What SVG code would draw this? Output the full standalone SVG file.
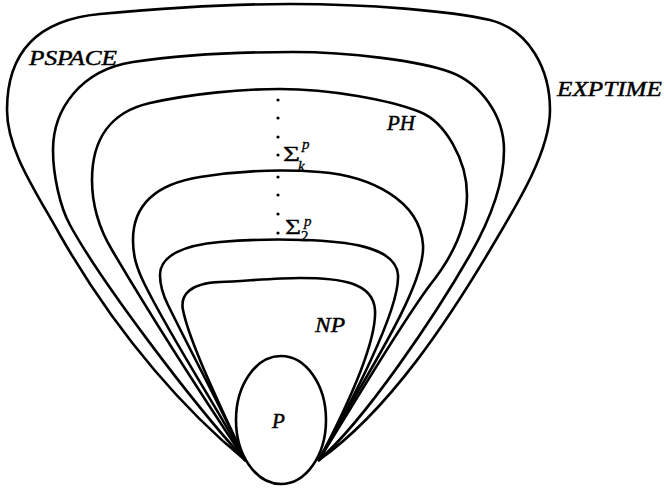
<svg xmlns="http://www.w3.org/2000/svg" width="664" height="489" viewBox="0 0 664 489">
<style>
.c{fill:none;stroke:#000;stroke-width:2.6;stroke-linecap:round;stroke-linejoin:round}
.t{font-family:"Liberation Serif","Times New Roman",serif;font-style:italic;font-size:21px;fill:#000;stroke:#000;stroke-width:0.45}
.s{font-family:"Liberation Serif","Times New Roman",serif;font-size:22px;fill:#000;stroke:#000;stroke-width:0.3}
.sm{font-family:"Liberation Serif","Times New Roman",serif;font-style:italic;font-size:15px;fill:#000;stroke:#000;stroke-width:0.3}
.d{fill:#000}
</style>
<rect width="664" height="489" fill="#fff"/>
<g id="exptime">
<path class="c" d="M245,460 C190,415 120,340 60,235 C35,190 7,150 7,110 C7,55 35,20 100,14 C160,8.5 230,4 290,4 C370,4 450,11 490,20 C530,30 550,70 550,110 C550,150 520,200 490,250 C450,317 390,410 319,460"/>
<text class="t" x="557" y="96" textLength="105" lengthAdjust="spacingAndGlyphs">EXPTIME</text>
</g>
<g id="pspace">
<path class="c" d="M245,460 C190,400 100,280 70,225 C60,207 53,175 53,150 C53,110 80,70 133,62 C180,55 240,52 293,52 C350,52 420,61 450,72 C480,83 504,115 504,150 C504,185 490,220 470,255 C435,316 365,420 319,460"/>
<text class="t" x="29" y="65" textLength="88" lengthAdjust="spacingAndGlyphs">PSPACE</text>
</g>
<g id="ph">
<path class="c" d="M245,460 C215,415 165,340 112,250 C100,230 92,205 92,180 C92,140 110,112 150,103 C190,94 240,89 280,89 C330,89 390,100 420,112 C445,122 467,160 467,195 C467,230 450,260 430,285 C400,325 350,410 319,460"/>
<text class="t" x="387" y="130" textLength="28" lengthAdjust="spacingAndGlyphs">PH</text>
</g>
<g id="sigmak">
<path class="c" d="M245,460 C222,415 175,345 145,285 C136,267 133,255 133,240 C133,210 150,185 200,177 C240,170.6 280,169 320,172 C370,176 420,200 423,245 C426,290 350,400 319,460"/>
<text class="s" x="283" y="161" textLength="17" lengthAdjust="spacingAndGlyphs">Σ</text>
<text class="sm" x="302" y="149">p</text>
<text class="sm" x="298" y="171">k</text>
</g>
<g id="sigma2">
<path class="c" d="M245,460 C225,415 195,360 168,305 C163,295 160,285 160,275 C160,255 185,245 220,242 C248,239.6 275,239 303,240 C340,241 396,245 398,275 C400,310 350,405 319,460"/>
<text class="s" x="285" y="234" textLength="16" lengthAdjust="spacingAndGlyphs">Σ</text>
<text class="sm" x="304" y="226">p</text>
<text class="s" x="301" y="241" style="font-size:15px">2</text>
</g>
<g id="np">
<path class="c" d="M245,460 C225,415 190,345 183,310 C180,295 190,283 220,282 C245,281 275,278 300,278 C340,278 373,282 375,310 C377,345 340,420 319,460"/>
<text class="t" x="315" y="332" textLength="30" lengthAdjust="spacingAndGlyphs">NP</text>
</g>
<g id="p">
<ellipse class="c" cx="281" cy="420" rx="45" ry="64"/>
<text class="t" x="272" y="428">P</text>
</g>
<g id="connectors">
<circle class="d" cx="278" cy="100" r="1.6"/>
<circle class="d" cx="278" cy="118" r="1.6"/>
<circle class="d" cx="278" cy="137" r="1.6"/>
<circle class="d" cx="278" cy="155" r="1.6"/>
<circle class="d" cx="278" cy="177" r="1.6"/>
<circle class="d" cx="278" cy="195" r="1.6"/>
<circle class="d" cx="278" cy="214" r="1.6"/>
<circle class="d" cx="278" cy="233" r="1.6"/>
</g>
</svg>
